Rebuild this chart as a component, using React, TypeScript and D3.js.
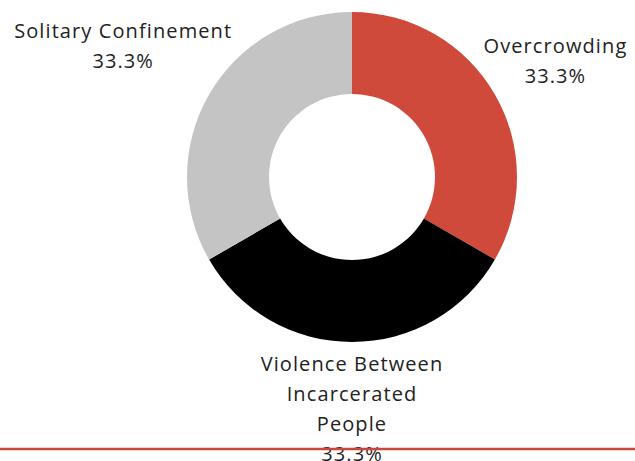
import React from "react";
import * as d3 from "d3";

const categories = ["Overcrowding", "Violence Between Incarcerated People", "Solitary Confinement"];
const values = [33.3, 33.3, 33.3];
const labelLines = [["Overcrowding"], ["Violence Between", "Incarcerated", "People"], ["Solitary Confinement"]];
const colors = ["#D04A3C", "#000000", "#C4C4C4"];

const W = 635;
const H = 461;
const cx = 352;
const cy = 177;
const outerR = 165;
const innerR = 83;

export default function App() {
  const pie = d3.pie<number>().sort(null).value((d) => d);
  const arcs = pie(values);
  const arc = d3.arc<d3.PieArcDatum<number>>().innerRadius(innerR).outerRadius(outerR);
  const total = d3.sum(values);
  const fmt = (v: number) => ((v / total) * 100).toFixed(1) + "%";

  const labelPlacement = [
    { r: 243, dx: -7, dy: -3 },
    { r: 0, dx: 0, dy: 194 },
    { r: 270, dx: 5, dy: -4 },
  ];
  const lineH = 30;

  return (
    <svg
      width={W}
      height={H}
      style={{ position: "absolute", left: 0, top: 0, background: "#fff" }}
      fontFamily="'Open Sans', sans-serif"
    >
      <g transform={`translate(${cx},${cy})`}>
        {arcs.map((a, i) => (
          <path key={categories[i]} d={arc(a) || ""} fill={colors[i]} />
        ))}
      </g>
      {arcs.map((a, i) => {
        const mid = (a.startAngle + a.endAngle) / 2;
        const p = labelPlacement[i];
        const x = cx + Math.sin(mid) * p.r + p.dx;
        const y = cy - Math.cos(mid) * p.r + p.dy;
        const lines = [...labelLines[i], fmt(values[i])];
        return (
          <text key={categories[i]} x={x} y={y} textAnchor="middle" fontSize={20} letterSpacing={1.1} fill="#222">
            {lines.map((l, j) => (
              <tspan key={j} x={x} dy={j === 0 ? 0 : lineH}>
                {l}
              </tspan>
            ))}
          </text>
        );
      })}
      <line x1={0} x2={W} y1={449} y2={449} stroke="#C9463B" strokeWidth={2.5} />
    </svg>
  );
}
